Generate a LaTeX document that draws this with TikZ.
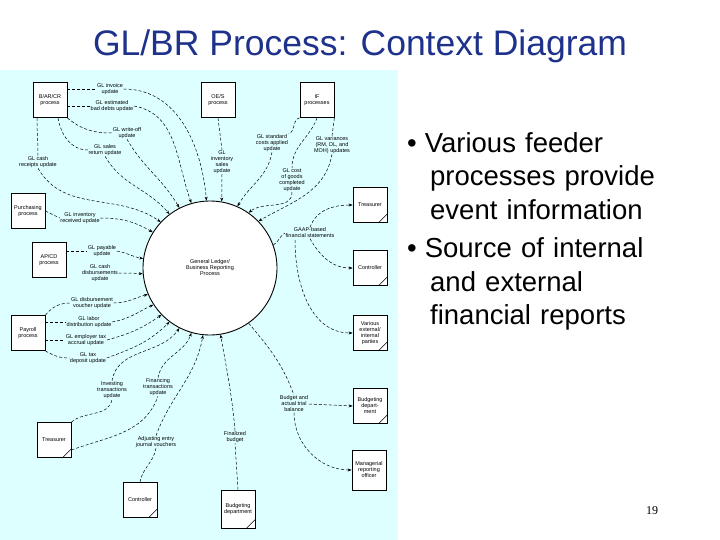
\documentclass[tikz,border=0pt]{standalone}
\usepackage{fontspec}
\setmainfont{Liberation Sans}
\newfontfamily\serifnum{Liberation Serif}
\usetikzlibrary{arrows.meta}
\definecolor{panel}{RGB}{222,255,255}
\definecolor{titleblue}{RGB}{30,50,140}
\begin{document}
\begin{tikzpicture}[x=1pt,y=-1pt,
  ent/.style={draw,line width=0.8pt,fill=white,minimum width=34pt,minimum height=35pt,inner sep=1pt,align=center,font=\fontsize{5.5}{6}\selectfont},
  lbl/.style={align=center,font=\fontsize{5.5}{6}\selectfont,inner sep=0.5pt},
  fl/.style={densely dashed,line width=0.5pt},
  fa/.style={densely dashed,line width=0.5pt,-{Stealth[length=4pt,width=3pt]}},
  sink/.style={ent},
]
\useasboundingbox (0,0) rectangle (720,540);
\fill[white] (0,0) rectangle (720,540);
\fill[panel] (0,70) rectangle (398,540);
\node[text=titleblue,font=\fontsize{35.5}{38}\selectfont] (title) at (360,46) {GL/BR Process: Context Diagram};
\node[anchor=north west,align=left,font=\fontsize{27.5}{33.5}\selectfont,text width=320pt,inner sep=0pt] (bul) at (407,132)
 {\textbullet\hspace{8pt}Various feeder\\\hspace{23pt}processes provide\\\hspace{23pt}event information\\[5pt]\textbullet\hspace{8pt}Source of internal\\\hspace{23pt}and external\\\hspace{23pt}financial reports};
\node[font=\serifnum\fontsize{12}{13}\selectfont] (pg) at (652,511) {19};

\node[draw,circle,line width=0.9pt,fill=white,minimum size=134pt,inner sep=0pt,align=center,font=\fontsize{5.5}{6}\selectfont] (c) at (210,268) {General Ledger/\\Business Reporting\\Process};

% entities
\node[ent] (bar) at (50,100) {B/AR/CR\\process};
\node[ent] (oes) at (218,100) {OE/S\\process};
\node[ent] (if) at (317,100) {IF\\processes};
\node[ent] (pur) at (28,211) {Purchasing\\process};
\node[ent] (apcd) at (49,260) {AP/CD\\process};
\node[ent] (pay) at (28,333) {Payroll\\process};
\node[sink] (tr) at (370,205) {Treasurer};
\node[sink] (ctl) at (370,268) {Controller};
\node[sink] (var) at (370,333) {Various\\external/\\internal\\parties};
\node[sink] (bud) at (370,406) {Budgeting\\depart-\\ment};
\node[ent,minimum height=40pt] (mro) at (369,470) {Managerial\\reporting\\officer};
\node[sink] (trl) at (54,440) {Treasurer};
\node[sink] (ctlb) at (140,500) {Controller};
\node[sink,minimum height=38pt] (budb) at (238,509) {Budgeting\\department};
\foreach \n in {tr,ctl,var,bud,trl,ctlb,budb}
  \draw[line width=0.6pt] ([xshift=-9pt]\n.south east) -- ([yshift=9pt]\n.south east);

% B/AR/CR
\node[lbl] (l1) at (110,89) {GL invoice\\update};
\node[lbl] (l2) at (112,106) {GL estimated\\bad debts update};
\node[lbl] (l3) at (127,133) {GL write-off\\update};
\node[lbl] (l4) at (105,150) {GL sales\\return update};
\node[lbl] (l5) at (38,162) {GL cash\\receipts update};
\draw[fl] (bar.east|-l1) -- (l1);
\draw[fa] (l1.east) to[out=0,in=95] (c.93);
\draw[fl] (bar.east|-l2) -- (l2);
\draw[fa] (l2.east) to[out=-10,in=110] (c.106);
\draw[fl] (bar.south east) to[out=-40,in=180] (l3.west);
\draw[fa] (l3.south) to[out=-60,in=120] (c.117);
\draw[fl] (58,118) to[out=-80,in=180] (l4.west);
\draw[fa] (l4.south) to[out=-60,in=130] (c.127);
\draw[fl] (37,118) to[out=-90,in=90] (l5.north);
\draw[fa] (l5.south) to[out=-60,in=145] (c.137);
% purchasing
\node[lbl] (l6) at (80,218) {GL inventory\\received update};
\draw[fl] (pur.east) -- (l6.west);
\draw[fa] (l6.east) to[out=0,in=150] (c.148);
% OE/S
\node[lbl] (l7) at (222,162) {GL\\inventory\\sales\\update};
\draw[fl] (oes.south) -- (l7.north);
\draw[fa] (l7.south) -- (c.80);
% IF
\node[lbl] (l8) at (272,143) {GL standard\\costs applied\\update};
\node[lbl] (l9) at (292,180) {GL cost\\of goods\\completed\\update};
\node[lbl] (l10) at (332,145) {GL variances\\(RM, DL, and\\MOH) updates};
\draw[fl] (if.south west) to[out=-170,in=20] (l8.north east);
\draw[fa] (l8.south) to[out=-100,in=60] (c.66);
\draw[fl] (if.south) to[out=-110,in=90] (l9.north);
\draw[fa] (l9.south) to[out=-90,in=40] (c.55);
\draw[fl] (if.south east) -- (l10.north);
\draw[fa] (l10.south) to[out=-100,in=30] (c.44);
% GAAP outputs
\node[lbl] (l11) at (310,233) {GAAP-based\\financial statements};
\draw[fl] (c.20) to[out=30,in=-150] (l11.west);
\draw[fa] (l11.north) to[out=70,in=180] (tr.west);
\draw[fa] (l11.south) to[out=-60,in=180] (ctl.west);
\draw[fa] (295,240) to[out=-90,in=180] (var.west);
% AP/CD
\node[lbl] (l12) at (102,251) {GL payable\\update};
\node[lbl] (l13) at (100,273) {GL cash\\disbursements\\update};
\draw[fl] (apcd.east|-l12) -- (l12.west);
\draw[fa] (l12.east) to[out=-10,in=170] (c.172);
\draw[fa] (l13.east) to[out=0,in=175] (c.185);
% payroll
\node[lbl] (l14) at (92,303) {GL disbursement\\voucher update};
\node[lbl] (l15) at (89,322) {GL labor\\distribution update};
\node[lbl] (l16) at (86,340) {GL employer tax\\accrual update};
\node[lbl] (l17) at (88,358) {GL tax\\deposit update};
\draw[fl] (pay.north east) to[out=50,in=180] (l14.west);
\draw[fa] (l14.east) to[out=0,in=195] (c.203);
\draw[fl] (pay.east|-l15) -- (l15.west);
\draw[fa] (l15.east) to[out=10,in=205] (c.213);
\draw[fl] (pay.east|-l16) -- (l16.west);
\draw[fa] (l16.east) to[out=15,in=215] (c.224);
\draw[fl] (pay.south east) to[out=-30,in=180] (l17.west);
\draw[fa] (l17.east) to[out=20,in=225] (c.233);
% treasurer left
\node[lbl] (l18) at (112,390) {Investing\\transactions\\update};
\node[lbl] (l19) at (158,387) {Financing\\transactions\\update};
\draw[fl] (trl.north east) to[out=40,in=-100] (l18.south);
\draw[fa] (l18.north) to[out=80,in=235] (c.243);
\draw[fl] (trl.east) ++(0,10) to[out=20,in=-110] (l19.south);
\draw[fa] (l19.north) to[out=80,in=250] (c.254);
% controller bottom
\node[lbl] (l20) at (156,442) {Adjusting entry\\journal vouchers};
\draw[fl] (ctlb.north) to[out=80,in=-100] (l20.south);
\draw[fa] (l20.north) to[out=70,in=260] (c.264);
% budgeting bottom
\node[lbl] (l21) at (235,437) {Finalized\\budget};
\draw[fl] (budb.north) -- (l21.south);
\draw[fa] (l21.north) to[out=95,in=-80] (c.279);
% budget and actual
\node[lbl] (l22) at (294,404) {Budget and\\actual trial\\balance};
\draw[fl] (c.305) to[out=-50,in=110] (l22.north);
\draw[fa] (l22.east) -- (bud.west);
\draw[fa] (l22.south) to[out=-90,in=180] (mro.west);
\end{tikzpicture}
\end{document}
